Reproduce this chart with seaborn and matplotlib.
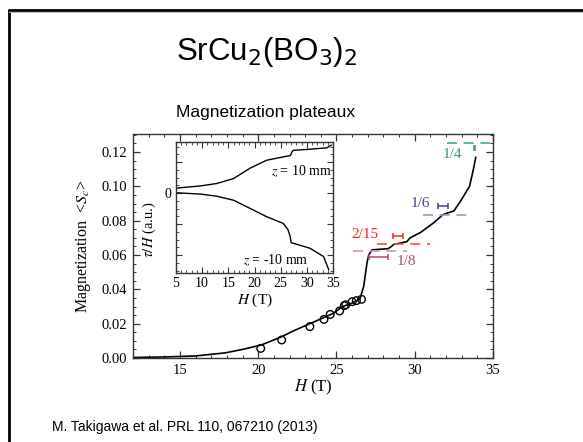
import matplotlib
matplotlib.use("Agg")
import matplotlib.pyplot as plt
import seaborn as sns
import pandas as pd
from matplotlib.lines import Line2D
from matplotlib.ticker import MultipleLocator, FixedLocator

# ---------------- data ----------------
main_H = [12.0, 14.0, 16.0, 17.9, 19.1, 20.2, 21.4, 22.3, 23.3, 24.8, 25.4, 26.0, 26.5,
          26.74, 26.95, 27.06, 27.27, 28.3, 28.5, 28.65, 29.0, 29.5, 29.7, 30.35, 31.2,
          31.8, 32.5, 32.9, 33.5, 33.75, 33.9]
main_M = [0.0003, 0.0006, 0.0012, 0.003, 0.0052, 0.0076, 0.012, 0.016, 0.020, 0.026, 0.030,
          0.032, 0.0345, 0.0418, 0.0554, 0.060, 0.063, 0.0637, 0.0649, 0.0662, 0.0668, 0.0678,
          0.070, 0.073, 0.0787, 0.0835, 0.0857, 0.091, 0.100, 0.110, 0.117]

nmr_H = [20.16, 21.5, 23.3, 24.2, 24.6, 25.2, 25.5, 25.6, 26.0, 26.27, 26.6]
nmr_M = [0.0056, 0.0105, 0.0183, 0.0225, 0.0254, 0.0274, 0.0305, 0.031, 0.0328, 0.0334, 0.0342]

plateau_labels = ["1/8", "2/15", "1/6", "1/4"]
plateau_values = [0.0625, 0.0667, 0.0833, 0.125]
plateau_start = [26.06, 27.6, 30.55, 32.05]
plateau_end = [29.5, 31.0, 33.5, 35.0]
plateau_line_colors = ["#d896b0", "#ff4a4a", "#9a9ad0", "#3fae84"]
plateau_text_colors = ["#b04a78", "#ff1e1e", "#4a3f95", "#3a9a72"]
label_H = [29.5, 26.85, 30.35, 32.4]
label_M = [0.0565, 0.0722, 0.0900, 0.1188]
bar_H = [27.68, 28.92, 31.82, 33.8]
bar_half = [0.62, 0.33, 0.33, 0.04]
bar_M = [0.059, 0.071, 0.0886, 0.1222]

up_H = [5.0, 9.6, 12.8, 16.0, 19.1, 22.3, 25.5, 26.8, 26.9, 27.1, 27.4, 30.0, 33.8, 34.7]
up_T = [0.16, 0.23, 0.31, 0.47, 0.80, 1.06, 1.17, 1.21, 1.23, 1.31, 1.38, 1.41, 1.46, 1.55]
low_H = [5.0, 9.6, 12.8, 16.0, 19.1, 22.3, 25.5, 26.4, 26.8, 27.0, 28.0, 30.6, 33.2, 34.2]
low_T = [0.01, -0.03, -0.10, -0.23, -0.49, -0.76, -0.98, -1.18, -1.39, -1.60, -1.65, -1.78,
         -2.05, -2.48]

main_df = pd.DataFrame({"H": main_H, "M": main_M})
nmr_df = pd.DataFrame({"H": nmr_H, "M": nmr_M})
up_df = pd.DataFrame({"H": up_H, "T": up_T})
low_df = pd.DataFrame({"H": low_H, "T": low_T})

# ---------------- style ----------------
sns.set_theme(style="ticks")
plt.rcParams['font.family'] = ['Liberation Serif', 'DejaVu Serif']
plt.rcParams['mathtext.fontset'] = 'stix'
plt.rcParams['text.color'] = 'black'
plt.rcParams['axes.labelcolor'] = 'black'
plt.rcParams['xtick.color'] = 'black'
plt.rcParams['ytick.color'] = 'black'

fig = plt.figure(figsize=(5.83, 4.42), dpi=100)
fig.patch.set_facecolor("white")

# slide frame
fig.add_artist(Line2D([0.0154, 0.0154], [0, 0.9785], color="black", lw=2.0,
                      transform=fig.transFigure))
fig.add_artist(Line2D([0.0154, 1.0], [0.9785, 0.9785], color="black", lw=2.0,
                      transform=fig.transFigure))
fig.add_artist(Line2D([0.0154, 1.0], [0.9735, 0.9735], color="#bbbbbb", lw=0.8,
                      transform=fig.transFigure))

fig.text(267 / 583, 1 - 60 / 442, r"SrCu$_2$(BO$_3$)$_2$", ha="center", va="baseline",
         fontsize=22.5, family="Liberation Sans", math_fontfamily="dejavusans",
         color="black")
fig.text(266 / 583, 1 - 112 / 442, "Magnetization plateaux", ha="center", va="center",
         fontsize=12.5, family="Liberation Sans", color="black")
fig.text(52 / 583, 1 - 427 / 442, "M. Takigawa et al. PRL 110, 067210 (2013)", ha="left",
         va="center", fontsize=10, family="Liberation Sans", color="black")

# ---------------- main axes ----------------
ax = fig.add_axes([133 / 583, 1 - 358 / 442, 360 / 583, 224 / 442])
ax.set_facecolor("white")
sns.lineplot(data=main_df, x="H", y="M", ax=ax, color="black", lw=1.2, sort=False,
             estimator=None)
sns.scatterplot(data=nmr_df, x="H", y="M", ax=ax, marker="o", s=30, facecolor="none",
                edgecolor="black", linewidth=1.0, zorder=3)

for i in range(len(plateau_labels)):
    ax.plot([plateau_start[i], plateau_end[i]], [plateau_values[i], plateau_values[i]],
            color=plateau_line_colors[i], lw=1.2, linestyle=(0, (6, 4)), clip_on=False)
    ax.text(label_H[i], label_M[i], plateau_labels[i], color=plateau_text_colors[i],
            ha="center", va="center", fontsize=11)
    ax.errorbar([bar_H[i]], [bar_M[i]], xerr=[bar_half[i]], fmt="none",
                ecolor=plateau_text_colors[i], elinewidth=1.1, capsize=2.5, capthick=1.1)

ax.set_xlim(12, 35)
ax.set_ylim(0, 0.1305)
ax.xaxis.set_major_locator(MultipleLocator(5))
ax.xaxis.set_minor_locator(MultipleLocator(1))
ax.yaxis.set_major_locator(MultipleLocator(0.02))
ax.yaxis.set_minor_locator(MultipleLocator(0.005))
ax.yaxis.set_major_formatter(matplotlib.ticker.FormatStrFormatter("%.2f"))
ax.tick_params(which="both", direction="in", top=True, right=True, color="#333333",
               labelsize=10.5, labelcolor="black", pad=4)
ax.tick_params(which="major", length=5, width=0.9)
ax.tick_params(which="minor", length=2.5, width=0.7)
for s in ax.spines.values():
    s.set_linewidth(1.0)
    s.set_color("#333333")
ax.set_xlabel(r"$H$ (T)", fontsize=12, labelpad=1)
ax.set_ylabel(r"Magnetization  <$S_c$>", fontsize=11.5, labelpad=6)

# ---------------- inset ----------------
ins = fig.add_axes([176 / 583, 1 - 273 / 442, 157 / 583, 131 / 442])
ins.set_facecolor("white")
sns.lineplot(data=up_df, x="H", y="T", ax=ins, color="black", lw=1.0, sort=False,
             estimator=None)
sns.lineplot(data=low_df, x="H", y="T", ax=ins, color="black", lw=1.0, sort=False,
             estimator=None)
ins.text(34.8, 0.71, r"$z$ = 10 mm", ha="right", va="center", fontsize=10)
ins.text(24.1, -2.16, r"$z$ = -10 mm", ha="center", va="center", fontsize=10)
ins.set_xlim(5, 35)
ins.set_ylim(-2.58, 1.65)
ins.xaxis.set_major_locator(MultipleLocator(5))
ins.xaxis.set_minor_locator(MultipleLocator(1))
ins.yaxis.set_major_locator(FixedLocator([-2, -1, 0, 1]))
ins.yaxis.set_minor_locator(MultipleLocator(0.25))
ins.set_yticklabels(["", "", "0", ""])
ins.tick_params(which="both", direction="in", top=True, right=True, color="#333333",
                labelsize=10, labelcolor="black", pad=3)
ins.tick_params(which="major", length=4, width=0.8)
ins.tick_params(which="minor", length=2, width=0.6)
for s in ins.spines.values():
    s.set_linewidth(1.0)
    s.set_color("#333333")
ins.set_xlabel(r"$H$ (T)", fontsize=11, labelpad=1)
ins.set_ylabel(r"$\tau/H$ (a.u.)", fontsize=10.5)
ins.yaxis.set_label_coords(-0.115, 0.33)

fig.savefig("out.png", dpi=100, facecolor="white")
